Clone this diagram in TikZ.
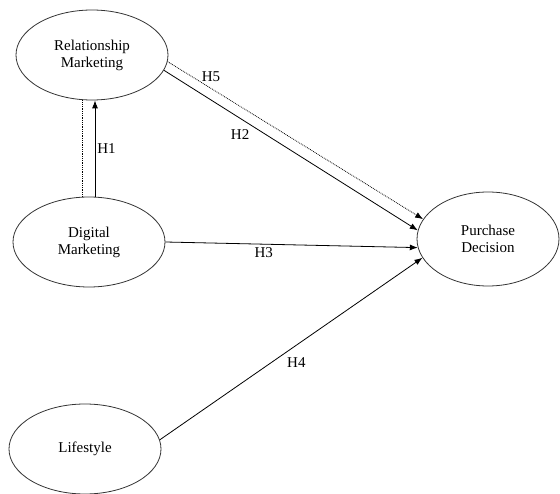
\documentclass[tikz,border=0pt]{standalone}
\usepackage{fontspec}
\setmainfont{Liberation Serif}
\usepackage{tikz}
\usetikzlibrary{positioning, shapes.geometric, arrows.meta}

\begin{document}
\begin{tikzpicture}[x=1pt, y=-1pt,
        construct/.style={ellipse, draw=black!80, line width=0.8pt, inner sep=0pt,
            minimum width=152pt, minimum height=90pt, align=center,
            font=\fontsize{15}{17}\selectfont},
        path/.style={line width=0.8pt, -{Latex[length=8pt, width=6pt]}},
        hlabel/.style={font=\fontsize{15}{17}\selectfont, inner sep=2pt}]
                \useasboundingbox (0, 0) rectangle (560, 494);

                \node [construct] (relmark) at (92, 55) {Relationship\\Marketing};
                \node [construct] (digmark) at (89, 242) {Digital\\Marketing};
                \node [construct] (lifestyle) at (85, 449) {Lifestyle};
                \node [construct, minimum width=142pt, minimum height=94pt] (purchase) at (488, 239) {Purchase\\Decision};

                % H1 and its dotted twin
                \draw [path] ([xshift=6pt]digmark.north) -- ([xshift=6pt]digmark.north |- relmark.south) node [midway, right, hlabel] {H1};
                \draw [line width=0.8pt, densely dotted] ([xshift=-7pt]digmark.north) -- ([xshift=-7pt]digmark.north |- relmark.south);

                \draw [path, densely dotted] (relmark.-5) -- (purchase.163) node [pos=0.17, above, hlabel, yshift=4pt] {H5};
                \draw [path] (relmark.-12) -- (purchase.173) node [pos=0.3, below, hlabel, yshift=-9pt] {H2};
                \draw [path] (digmark.east) -- (purchase.187) node [pos=0.39, below, hlabel, yshift=-1pt] {H3};
                \draw [path] (lifestyle.7) -- (purchase.196) node [pos=0.52, below, hlabel, yshift=-10pt] {H4};
            \end{tikzpicture}
\end{document}
